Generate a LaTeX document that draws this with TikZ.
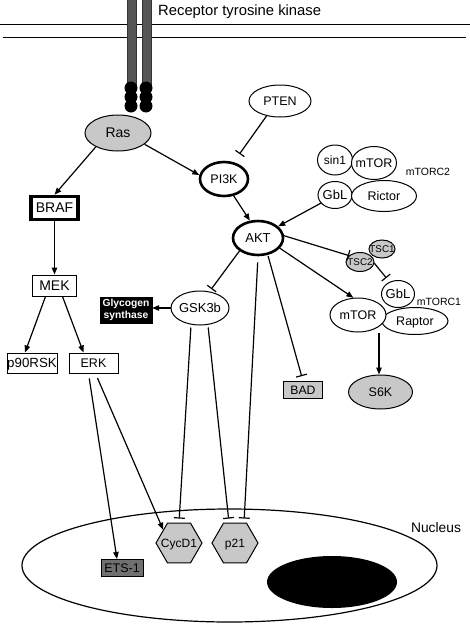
\documentclass[tikz,border=0pt]{standalone}
\usepackage{fontspec}
\setmainfont{Liberation Sans}
\usetikzlibrary{shapes.geometric,arrows.meta,calc}
\definecolor{lgray}{RGB}{200,200,200}
\definecolor{dgray}{RGB}{112,112,112}
\definecolor{rtkgray}{RGB}{85,85,85}
\newcommand\zw[1]{\makebox[0pt]{#1}}
\newcommand\fsz[1]{\fontsize{#1}{#1}\selectfont}
\begin{document}
\begin{tikzpicture}[x=1pt,y=-1pt,
  nbase/.style={draw, line width=1pt, inner sep=0pt, text height=9pt, text depth=0pt, font=\fsz{12.5}},
  nell/.style={nbase, ellipse, fill=white},
  gell/.style={nbase, ellipse, fill=lgray},
  nbox/.style={nbase, rectangle, fill=white},
  hexa/.style={nbase, regular polygon, regular polygon sides=6, minimum size=46pt, fill=lgray},
  actarr/.style={line width=1.2pt, -{Triangle[length=7pt,width=5.5pt]}},
  inharr/.style={line width=1.2pt, -{Bar[width=11pt]}},
  lbl/.style={inner sep=0pt},
]
\useasboundingbox (0,0) rectangle (470,624);

% membrane
\draw[line width=1pt] (0,24) -- (470,24);
\draw[line width=1pt] (3,37) -- (466,37);
% receptor tyrosine kinase
\filldraw[fill=rtkgray, draw=black!80, line width=0.5pt] (127,-1) rectangle (136,86);
\filldraw[fill=rtkgray, draw=black!80, line width=0.5pt] (142,-1) rectangle (151,86);
\foreach \yy in {88,97,106} {
  \fill (131,\yy) circle (6.5);
  \fill (146,\yy) circle (6.5);
}
\node[lbl, anchor=west, font=\fsz{14.8}, text height=10.5pt, text depth=0pt] (rtk) at (158,10) {Receptor tyrosine kinase};

% nucleus
\draw[line width=1.2pt, fill=white] (229.5,565.5) ellipse [x radius=207.5, y radius=56.5];
\fill (332,582) ellipse [x radius=65, y radius=26];
\node[lbl, font=\fsz{13.8}] (nuc) at (436,528) {Nucleus};

% nodes
\node[gell, minimum width=66pt, minimum height=36pt, font=\fsz{14}] (Ras) at (118,133) {\zw{Ras}};
\node[nell, minimum width=62pt, minimum height=32pt] (PTEN) at (280,101) {\zw{PTEN}};
\node[nell, line width=2.6pt, minimum width=48pt, minimum height=34pt] (PI3K) at (224,179) {\zw{PI3K}};
\node[nell, line width=2.6pt, minimum width=50pt, minimum height=34pt, font=\fsz{13}] (AKT) at (258,238) {\zw{AKT}};
\node[nbox, line width=3.5pt, minimum width=47pt, minimum height=23pt, font=\fsz{14}] (BRAF) at (54.5,208) {BRAF};
\node[nbox, minimum width=44pt, minimum height=21pt, font=\fsz{14}] (MEK) at (54.5,285.5) {MEK};
\node[nbox, minimum width=50pt, minimum height=20pt, font=\fsz{13.3}] (p90) at (32,363) {p90RSK};
\node[nbox, minimum width=49pt, minimum height=20pt] (ERK) at (93.5,363) {ERK};
\node[nell, minimum width=58pt, minimum height=34pt, font=\fsz{13}] (GSK) at (200,308) {\zw{GSK3b}};
\node[draw, fill=black, text=white, inner sep=0pt, minimum width=52pt, minimum height=26pt,
      align=center, font=\bfseries\fontsize{10.3}{12.5}\selectfont] (GS) at (126,310) {Glycogen\\synthase};

% mTORC2
\node[nell, minimum width=35pt, minimum height=30pt, font=\fsz{12}] (sin1) at (335,160) {\zw{sin1}};
\node[nell, minimum width=45pt, minimum height=33pt] (mTORa) at (374,163) {\zw{mTOR}};
\node[nell, minimum width=34pt, minimum height=27pt, font=\fsz{13}] (GbLa) at (335,195) {\zw{GbL}};
\node[nell, minimum width=65pt, minimum height=31pt] (Rictor) at (384,196) {\zw{Rictor}};
\node[lbl, font=\fsz{10.5}] (mC2) at (428,172) {mTORC2};

% TSC
\node[gell, minimum width=26pt, minimum height=18pt, font=\fsz{9.8}, text height=7pt] (TSC1) at (382,249) {\zw{TSC1}};
\node[gell, minimum width=28pt, minimum height=19pt, font=\fsz{9.8}, text height=7pt] (TSC2) at (360,262) {\zw{TSC2}};

% mTORC1
\node[nell, minimum width=33pt, minimum height=27pt, font=\fsz{13}] (GbLb) at (398,294) {\zw{GbL}};
\node[nell, minimum width=66pt, minimum height=27pt] (Raptor) at (415,321) {\zw{Raptor}};
\node[nell, minimum width=56pt, minimum height=34pt] (mTORb) at (358,315) {\zw{mTOR}};
\node[lbl, font=\fsz{10.5}] (mC1) at (439,302) {mTORC1};

\node[gell, minimum width=64pt, minimum height=34pt] (S6K) at (380.5,392) {\zw{S6K}};
\node[nbox, fill=lgray, minimum width=39pt, minimum height=17pt, font=\fsz{12.2}] (BAD) at (303,390) {BAD};

% nuclear nodes
\node[hexa, font=\fsz{12}] (CycD1) at (179,543) {\zw{CycD1}};
\node[hexa, font=\fsz{12}] (p21) at (235,543) {\zw{p21}};
\node[nbox, fill=dgray, minimum width=42pt, minimum height=17pt, font=\fsz{12.5}] (ETS) at (122,568) {ETS-1};

% connectors
\draw[actarr] (Ras.212) -- (BRAF.north);
\draw[actarr] (Ras.337) -- (PI3K.171);
\draw[inharr, shorten >=10pt] (PTEN.228) -- (PI3K.60);
\draw[actarr] (PI3K.300) -- (AKT.115);
\draw[actarr] (GbLa.210) -- (AKT.30);
\draw[inharr] (AKT.5) -- (TSC2.150);
\draw[inharr, shorten >=5pt] (TSC2.355) -- (GbLb.125);
\draw[actarr] (AKT.335) -- (mTORb.105);
\draw[actarr] ([xshift=-1.5pt]S6K.north |- mTORb.south) -- ([xshift=-1.5pt]S6K.north);
\draw[inharr, shorten <=1pt, shorten >=5pt] (AKT.300) -- (BAD.north);
\draw[inharr, shorten <=6pt, shorten >=4pt] (AKT.south) -- ([xshift=9pt]p21.north);
\draw[inharr, shorten >=3pt] (AKT.215) -- (GSK.60);
\draw[actarr] (GSK.west) -- (GSK.west -| GS.east);
\draw[inharr, shorten <=2pt, shorten >=4pt] ([xshift=-9pt]GSK.south) -- (CycD1.north);
\draw[inharr, shorten <=2pt, shorten >=4pt] ([xshift=8pt]GSK.south) -- ([xshift=-6pt]p21.north);
\draw[actarr] (BRAF.south) -- (MEK.north);
\draw[actarr] ([xshift=-9pt]MEK.south) -- ([xshift=-7pt]p90.north);
\draw[actarr] ([xshift=8pt]MEK.south) -- ([xshift=-10pt]ERK.north);
\draw[actarr, shorten <=5pt] ([xshift=-5pt]ERK.south) -- ([xshift=-5pt]ETS.north);
\draw[actarr, shorten <=5pt] ([xshift=2pt]ERK.south) -- (CycD1.140);
\end{tikzpicture}
\end{document}
